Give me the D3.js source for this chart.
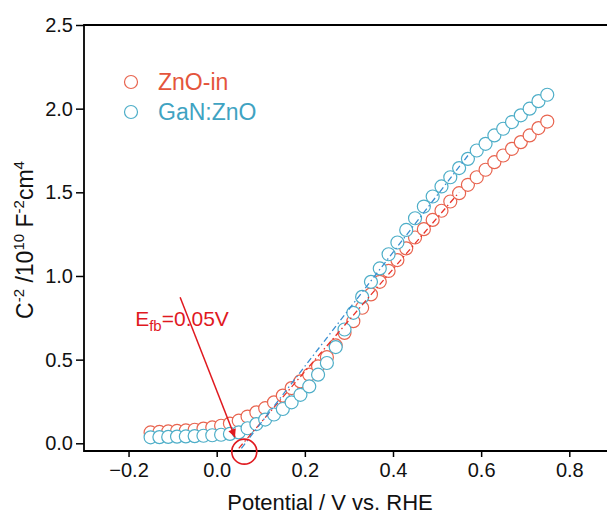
<!DOCTYPE html>
<html>
<head>
<meta charset="utf-8">
<script src="https://cdn.jsdelivr.net/npm/d3@7"></script>
<style>
  body { margin: 0; background: #fff; }
  svg { display: block; font-family: Arial, 'Liberation Sans', sans-serif; }
</style>
</head>
<body>
<svg id="grafico"></svg>
<script>
// potencial (V vs. RHE)
const potencial = [-0.15, -0.13, -0.11, -0.09, -0.07, -0.05, -0.03, -0.01, 0.01, 0.03,
  0.05, 0.07, 0.09, 0.11, 0.13, 0.15, 0.17, 0.19, 0.21, 0.23,
  0.25, 0.27, 0.29, 0.31, 0.33, 0.35, 0.37, 0.39, 0.41, 0.43,
  0.45, 0.47, 0.49, 0.51, 0.53, 0.55, 0.57, 0.59, 0.61, 0.63,
  0.65, 0.67, 0.69, 0.71, 0.73, 0.75];

const znoIn = [0.065, 0.068, 0.071, 0.074, 0.077, 0.081, 0.088, 0.095, 0.105, 0.118,
  0.135, 0.16, 0.185, 0.21, 0.245, 0.285, 0.33, 0.37, 0.41, 0.46,
  0.515, 0.585, 0.66, 0.73, 0.81, 0.89, 0.965, 1.03, 1.095, 1.165,
  1.23, 1.28, 1.335, 1.39, 1.445, 1.495, 1.545, 1.59, 1.635, 1.68,
  1.72, 1.76, 1.80, 1.84, 1.884, 1.923];

const ganZno = [0.036, 0.037, 0.038, 0.040, 0.041, 0.043, 0.045, 0.048, 0.051, 0.056,
  0.065, 0.09, 0.115, 0.142, 0.172, 0.205, 0.245, 0.29, 0.34, 0.41,
  0.48, 0.575, 0.68, 0.78, 0.875, 0.965, 1.045, 1.13, 1.20, 1.275,
  1.345, 1.415, 1.475, 1.535, 1.59, 1.645, 1.70, 1.75, 1.79, 1.84,
  1.88, 1.92, 1.96, 2.00, 2.045, 2.083];

// retas de ajuste (Mott-Schottky), pontos [V, C^-2]
const ajusteZnoIn = [[0.05, -0.03], [0.55, 1.5]];
const ajusteGanZno = [[0.056, -0.03], [0.57, 1.72]];

const ticksX = [-0.2, 0.0, 0.2, 0.4, 0.6, 0.8];
const ticksY = [0.0, 0.5, 1.0, 1.5, 2.0, 2.5];

const series = [
  { nome: 'ZnO-in', valores: znoIn, ajuste: ajusteZnoIn, cor: '#e8644f', corTexto: '#e4553c', corAjuste: '#e8322a' },
  { nome: 'GaN:ZnO', valores: ganZno, ajuste: ajusteGanZno, cor: '#4eaec8', corTexto: '#3fa3c2', corAjuste: '#3a8fd0' }
];

const largura = 607, altura = 516;
const margem = { esquerda: 84, superior: 25, inferior: 451, direita: 607 };

const svg = d3.select('#grafico').attr('width', largura).attr('height', altura);

const x = d3.scaleLinear().domain([0, 0.8]).range([216.7, 569.3]);
const y = d3.scaleLinear().domain([0, 2.5]).range([443.3, 25]);

// eixo y
const eixoY = svg.append('g')
  .attr('transform', `translate(${margem.esquerda},0)`)
  .call(d3.axisLeft(y).tickValues(ticksY).tickFormat(d3.format('.1f')).tickSize(8).tickSizeOuter(0).tickPadding(3));
eixoY.select('.domain').remove();

// eixo x
const eixoX = svg.append('g')
  .attr('transform', `translate(0,${margem.inferior})`)
  .call(d3.axisBottom(x).tickValues(ticksX).tickFormat(d3.format('.1f')).tickSize(6).tickSizeOuter(0).tickPadding(6));
eixoX.select('.domain').remove();

svg.selectAll('.tick line').attr('stroke', '#000').attr('stroke-width', 1.5);
svg.selectAll('.tick text').attr('fill', '#111').style('font-size', '20px').style('font-family', 'Arial, "Liberation Sans", sans-serif');

// moldura
svg.append('path')
  .attr('d', `M${margem.direita},${margem.superior}H${margem.esquerda}V${margem.inferior}H${margem.direita}`)
  .attr('fill', 'none').attr('stroke', '#000').attr('stroke-width', 1.8);

// pontos
series.forEach(s => {
  svg.append('g').selectAll('circle')
    .data(potencial.map((p, i) => [p, s.valores[i]]))
    .enter()
    .append('circle')
    .attr('cx', d => x(d[0]))
    .attr('cy', d => y(d[1]))
    .attr('r', 6.5)
    .attr('fill', '#fff')
    .attr('stroke', s.cor)
    .attr('stroke-width', 1.2);
});

// retas de ajuste
const linha = d3.line().x(d => x(d[0])).y(d => y(d[1]));
series.forEach(s => {
  svg.append('path')
    .attr('d', linha(s.ajuste))
    .attr('fill', 'none')
    .attr('stroke', s.corAjuste)
    .attr('stroke-width', 1.3)
    .attr('stroke-dasharray', '6,3,1.5,3');
});

// legenda
series.forEach((s, i) => {
  svg.append('circle')
    .attr('cx', 131).attr('cy', 82 + i * 30).attr('r', 6.5)
    .attr('fill', 'none').attr('stroke', s.cor).attr('stroke-width', 1.2);
  svg.append('text')
    .attr('x', 158).attr('y', 90 + i * 29.5)
    .attr('fill', s.corTexto)
    .style('font-size', '23px')
    .text(s.nome);
});

// anotacao E_fb
const vermelho = '#e0191f';
svg.append('defs').append('marker')
  .attr('id', 'seta')
  .attr('viewBox', '0 0 10 10')
  .attr('refX', 10).attr('refY', 5)
  .attr('markerWidth', 10).attr('markerHeight', 8)
  .attr('markerUnits', 'userSpaceOnUse')
  .attr('orient', 'auto')
  .append('path').attr('d', 'M0,0L10,5L0,10z').attr('fill', vermelho);

svg.append('line')
  .attr('x1', x(-0.083)).attr('y1', y(0.873))
  .attr('x2', x(0.0415)).attr('y2', y(0.036))
  .attr('stroke', vermelho).attr('stroke-width', 1.5)
  .attr('marker-end', 'url(#seta)');

svg.append('circle')
  .attr('cx', x(0.0626)).attr('cy', y(-0.05)).attr('r', 12.5)
  .attr('fill', 'none').attr('stroke', vermelho).attr('stroke-width', 1.6);

const rotulo = svg.append('text')
  .attr('x', x(-0.185)).attr('y', y(0.70))
  .attr('fill', vermelho)
  .style('font-size', '21px');
rotulo.append('tspan').text('E');
rotulo.append('tspan').attr('dy', 5).style('font-size', '15px').text('fb');
rotulo.append('tspan').attr('dy', -5).text('=0.05V');

// titulos
svg.append('text')
  .attr('x', 330).attr('y', 510)
  .attr('text-anchor', 'middle')
  .attr('fill', '#111')
  .style('font-size', '22px')
  .text('Potential / V vs. RHE');

const tituloY = svg.append('text')
  .attr('transform', 'translate(33,240) rotate(-90)')
  .attr('text-anchor', 'middle')
  .attr('fill', '#111')
  .style('font-size', '23px');
const partes = [['C', false], ['-2', true], [' /10', false], ['10', true], [' F', false], ['-2', true], ['cm', false], ['4', true]];
let emSup = false;
partes.forEach(([t, sup]) => {
  const ts = tituloY.append('tspan').text(t);
  if (sup && !emSup) ts.attr('dy', -9);
  if (!sup && emSup) ts.attr('dy', 9);
  if (sup) ts.style('font-size', '15px');
  emSup = sup;
});
</script>
</body>
</html>
